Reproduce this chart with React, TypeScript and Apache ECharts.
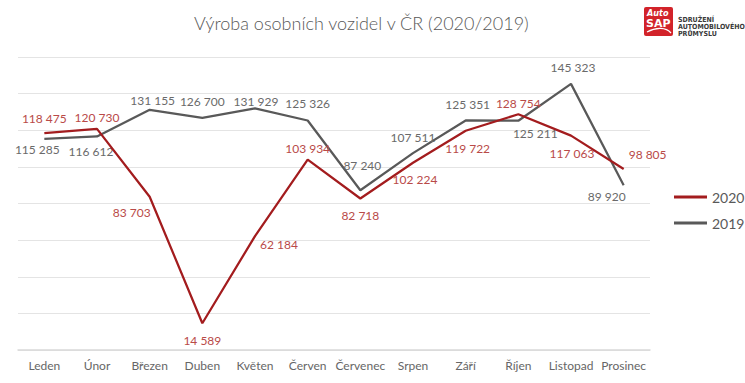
import React, { useEffect, useRef } from "react";
import * as echarts from "echarts";

// Měsíce a výroba osobních vozidel (kusy)
const months = ["Leden", "Únor", "Březen", "Duben", "Květen", "Červen", "Červenec", "Srpen", "Září", "Říjen", "Listopad", "Prosinec"];
const production2020 = [118475, 120730, 83703, 14589, 62184, 103934, 82718, 102224, 119722, 128754, 117063, 98805];
const production2019 = [115285, 116612, 131155, 126700, 131929, 125326, 87240, 107511, 125351, 125211, 145323, 89920];
const seriesNames = ["2020", "2019"];

// Umístění popisků hodnot u jednotlivých bodů
type Placement = { position: string; offset?: [number, number] };
const labels2020: Placement[] = [
  { position: "top", offset: [0, -4] },
  { position: "top" },
  { position: "bottom", offset: [-18, 5] },
  { position: "bottom", offset: [0, 6] },
  { position: "right", offset: [0, 8] },
  { position: "top" },
  { position: "bottom", offset: [0, 6] },
  { position: "bottom", offset: [2, 6] },
  { position: "bottom", offset: [2, 7] },
  { position: "top" },
  { position: "bottom", offset: [1, 7] },
  { position: "right", offset: [0, -15] },
];
const labels2019: Placement[] = [
  { position: "bottom", offset: [-7, 0] },
  { position: "bottom", offset: [-6, 4] },
  { position: "top", offset: [3, 2] },
  { position: "top", offset: [0, -5] },
  { position: "top", offset: [1, 4] },
  { position: "top", offset: [0, -6] },
  { position: "top", offset: [2, -14] },
  { position: "top", offset: [0, -5] },
  { position: "top", offset: [2, -5] },
  { position: "bottom", offset: [17, 2] },
  { position: "top", offset: [2, -5] },
  { position: "bottom", offset: [-17, 0] },
];

const RED = "#A31C1E";
const RED_LABEL = "#B94A48";
const GRAY = "#595959";
const GRAY_LABEL = "#6A6A6A";
const FONT = "Lato, 'Open Sans', sans-serif";

const fmt = (v: number) => String(v).replace(/\B(?=(\d{3})+(?!\d))/g, "\u00a0");

function buildData(values: number[], placements: Placement[]) {
  return values.map((v, i) => ({
    value: v,
    label: { position: placements[i].position, offset: placements[i].offset || [0, 0] },
  }));
}

export default function App() {
  const ref = useRef<HTMLDivElement>(null);

  useEffect(() => {
    if (!ref.current) return;
    const chart = echarts.init(ref.current, null, { renderer: "svg" });

    const labelStyle = (color: string) => ({
      show: true,
      fontFamily: FONT,
      fontSize: 12,
      color,
      formatter: (p: any) => fmt(p.value),
    });

    chart.setOption({
      animation: false,
      backgroundColor: "#ffffff",
      title: {
        text: "Výroba osobních vozidel v ČR (2020/2019)",
        left: 189,
        top: 9,
        textStyle: { fontFamily: FONT, fontSize: 18, fontWeight: 300, color: GRAY },
      },
      legend: {
        orient: "vertical",
        left: 669,
        top: 185,
        itemWidth: 33,
        itemHeight: 3,
        itemGap: 12,
        icon: "rect",
        data: seriesNames,
        textStyle: { fontFamily: FONT, fontSize: 14, color: GRAY },
      },
      grid: { left: 18, right: 95, top: 57, bottom: 33, containLabel: false },
      xAxis: {
        type: "category",
        data: months,
        boundaryGap: true,
        axisTick: { show: false },
        axisLine: { lineStyle: { color: "#D9D9D9", width: 1.5 } },
        axisLabel: { fontFamily: FONT, fontSize: 12, color: "#666666", margin: 9, interval: 0 },
      },
      yAxis: {
        type: "value",
        min: 0,
        max: 160000,
        interval: 20000,
        axisLabel: { show: false },
        axisLine: { show: false },
        axisTick: { show: false },
        splitLine: { lineStyle: { color: "#E4E4E4", width: 1 } },
      },
      series: [
        {
          name: seriesNames[0],
          type: "line",
          data: buildData(production2020, labels2020),
          symbol: "circle",
          symbolSize: 0.01,
          showSymbol: true,
          z: 3,
          lineStyle: { color: RED, width: 2.25 },
          itemStyle: { color: RED },
          label: labelStyle(RED_LABEL),
        },
        {
          name: seriesNames[1],
          type: "line",
          data: buildData(production2019, labels2019),
          symbol: "circle",
          symbolSize: 0.01,
          showSymbol: true,
          z: 2,
          lineStyle: { color: GRAY, width: 2.25 },
          itemStyle: { color: GRAY },
          label: labelStyle(GRAY_LABEL),
        },
      ],
      graphic: [
        {
          type: "group",
          left: 644,
          top: 7,
          children: [
            { type: "rect", shape: { x: 0, y: 0, width: 29, height: 29, r: 2 }, style: { fill: "#D2232A" } },
            {
              type: "text",
              x: 3,
              y: 1,
              style: { text: "Auto", fill: "#fff", font: "italic bold 9px 'DejaVu Sans Condensed', sans-serif" },
            },
            {
              type: "text",
              x: 2,
              y: 11,
              style: { text: "SAP", fill: "#fff", font: "bold 11px 'DejaVu Sans', sans-serif" },
            },
            {
              type: "bezierCurve",
              shape: { x1: 3, y1: 25, x2: 27, y2: 26, cpx1: 12, cpy1: 20, cpx2: 22, cpy2: 20 },
              style: { stroke: "#fff", lineWidth: 1.2, fill: null },
            },
            {
              type: "text",
              x: 34,
              y: 9,
              style: {
                text: "SDRUŽENÍ\nAUTOMOBILOVÉHO\nPRŮMYSLU",
                fill: "#3a3a3a",
                font: "bold 7px 'DejaVu Sans Condensed', sans-serif",
                lineHeight: 7,
              },
            },
          ],
        },
      ],
    });

    return () => chart.dispose();
  }, []);

  return <div ref={ref} style={{ position: "absolute", left: 0, top: 0, width: 745, height: 383 }} />;
}
